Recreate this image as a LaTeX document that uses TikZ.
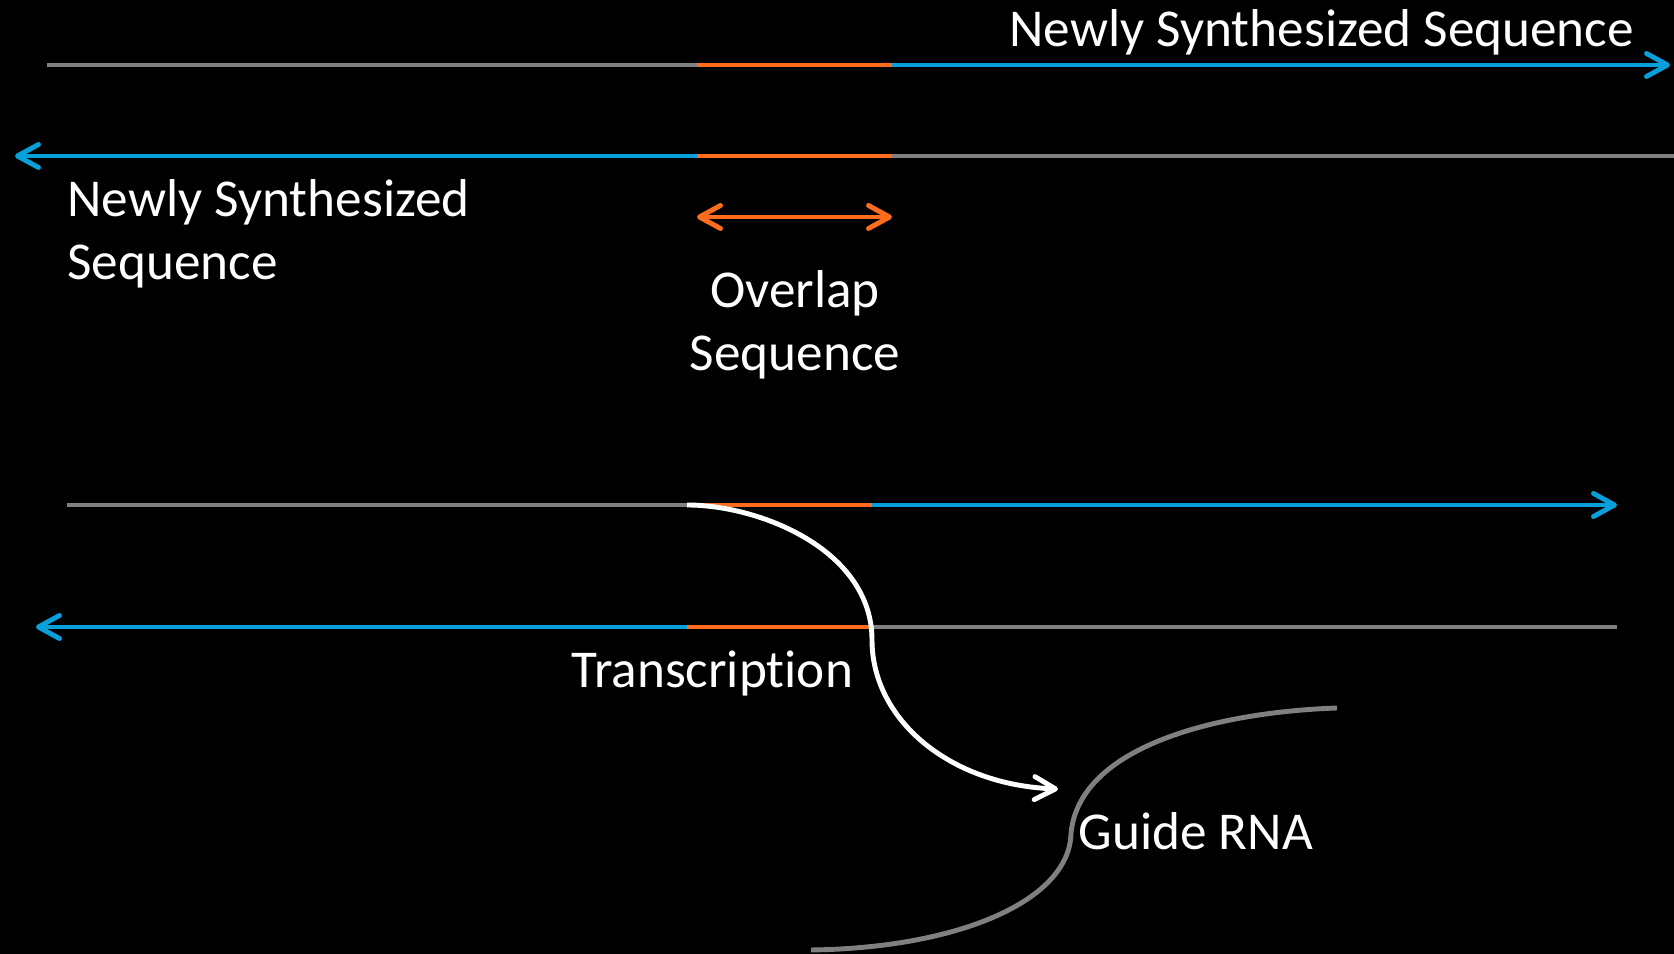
\documentclass[tikz,border=0pt]{standalone}
\usepackage{fontspec}
\setmainfont{Carlito}[Ligatures=NoCommon]
\usetikzlibrary{arrows.meta,positioning}
\definecolor{strandgray}{RGB}{128,128,130}
\definecolor{newblue}{RGB}{8,160,218}
\definecolor{overlaporange}{RGB}{255,108,30}

\begin{document}
\begin{tikzpicture}[line width=1.4pt, barb/.tip={Straight Barb[length=2.1mm,width=2.3mm,round]}, seq text/.style={text=white,inner sep=0pt,font=\fontsize{15.15}{18.2}\selectfont}]
\fill[black] (0,0) rectangle (16.74,-9.54);
\useasboundingbox (0,0) rectangle (16.74,-9.54);
% top pair of strands
\coordinate (a0) at (0.47,-0.65);
\coordinate (a1) at (6.97,-0.65);
\coordinate (a2) at (8.92,-0.65);
\coordinate (a3) at (16.70,-0.65);
\coordinate (b0) at (0.15,-1.56);
\coordinate (b1) at (6.97,-1.56);
\coordinate (b2) at (8.92,-1.56);
\coordinate (b3) at (16.74,-1.56);
\coordinate (c0) at (6.97,-2.17);
\coordinate (c1) at (8.92,-2.17);
% lower pair of strands
\coordinate (d0) at (0.67,-5.05);
\coordinate (d1) at (6.87,-5.05);
\coordinate (d2) at (8.72,-5.05);
\coordinate (d3) at (16.17,-5.05);
\coordinate (e0) at (0.36,-6.27);
\coordinate (e1) at (6.87,-6.27);
\coordinate (e2) at (8.72,-6.27);
\coordinate (e3) at (16.17,-6.27);
\coordinate (t1) at (8.72,-6.40);
\coordinate (t2) at (10.58,-7.89);
\coordinate (g0) at (13.37,-7.08);
\coordinate (g1) at (10.71,-8.33);
\coordinate (g2) at (8.11,-9.50);
\begin{scope}[every node/.style={seq text}]
\node[anchor=base west] (new1) at (10.07,-0.465) {Newly Synthesized Sequence};
\node[anchor=base west,align=left] (new2) at (0.65,-2.80) {Newly Synthesized\\Sequence};
\node[anchor=base,align=center] (overlap) at (7.95,-3.71) {Overlap\\Sequence};
\node[anchor=base west] (transcr) at (5.69,-6.88) {Transcription};
\node[anchor=base west] (guide) at (10.76,-8.50) {Guide RNA};
\end{scope}
\begin{scope}
\draw[strandgray] (a0) -- (a1);
\draw[overlaporange] (a1) -- (a2);
\draw[newblue,-barb] (a2) -- (a3);
\draw[newblue,barb-] (b0) -- (b1);
\draw[overlaporange] (b1) -- (b2);
\draw[strandgray] (b2) -- (b3);
\draw[overlaporange,barb-barb] (c0) -- (c1);
\draw[strandgray] (d0) -- (d1);
\draw[overlaporange] (d1) -- (d2);
\draw[newblue,-barb] (d2) -- (d3);
\draw[newblue,barb-] (e0) -- (e1);
\draw[overlaporange] (e1) -- (e2);
\draw[strandgray] (e2) -- (e3);
\draw[white,-barb] (d1) .. controls (7.6,-5.05) and (8.72,-5.5) .. (t1) .. controls (8.72,-7.2) and (9.5,-7.85) .. (t2);
\draw[strandgray] (g0) .. controls (12.2,-7.12) and (10.8,-7.45) .. (g1) .. controls (10.7,-9.0) and (9.6,-9.48) .. (g2);
\end{scope}
\end{tikzpicture}
\end{document}
